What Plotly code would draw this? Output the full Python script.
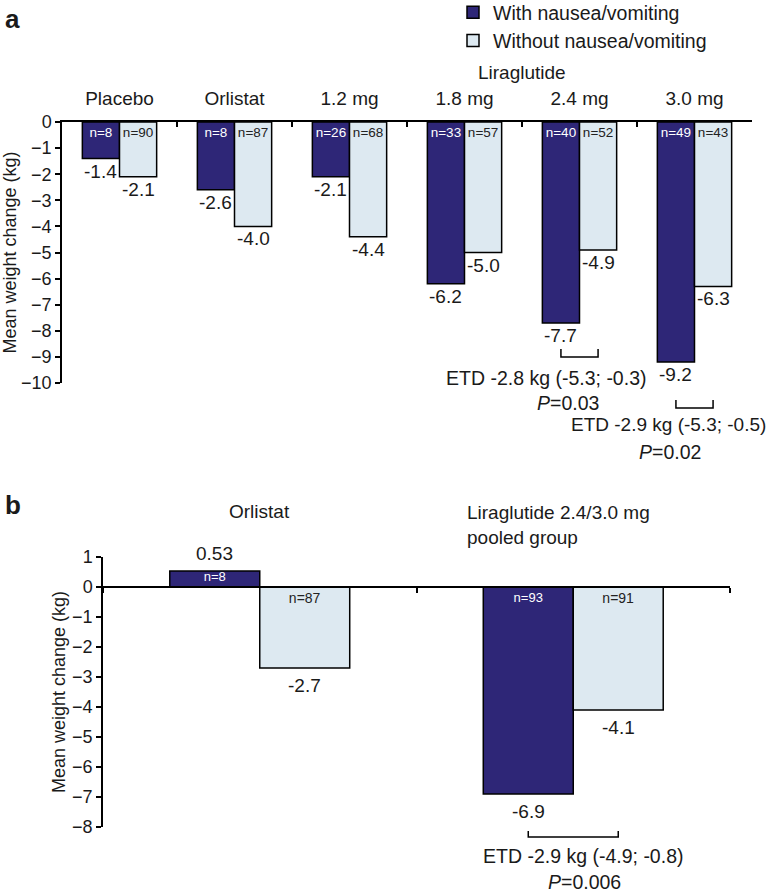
import plotly.graph_objects as go

# ---------------- data ----------------
groups_a = ["Placebo", "Orlistat", "1.2 mg", "1.8 mg", "2.4 mg", "3.0 mg"]
with_nv_a = [-1.4, -2.6, -2.1, -6.2, -7.7, -9.2]
without_nv_a = [-2.1, -4.0, -4.4, -5.0, -4.9, -6.3]
n_with_a = [8, 8, 26, 33, 40, 49]
n_without_a = [90, 87, 68, 57, 52, 43]

groups_b = ["Orlistat", "Liraglutide 2.4/3.0 mg<br>pooled group"]
with_nv_b = [0.53, -6.9]
without_nv_b = [-2.7, -4.1]
n_with_b = [8, 93]
n_without_b = [87, 91]

etd_a_groups = ["2.4 mg", "3.0 mg"]
etd_a_text = ["ETD -2.8 kg (-5.3; -0.3)", "ETD -2.9 kg (-5.3; -0.5)"]
etd_a_p = ["<i>P</i>=0.03", "<i>P</i>=0.02"]
etd_b_text = "ETD -2.9 kg (-4.9; -0.8)"
etd_b_p = "<i>P</i>=0.006"

# ---------------- style ----------------
FONT = "Liberation Sans, Arial, Helvetica, sans-serif"
DARK = "#2e2677"
LIGHT = "#dde9f1"
FW = 773
FH = 894
RA = [-10, 0]
RB = [-8, 1]


def px2x(px):
    return px / FW


def px2y(py):
    return 1 - py / FH


DOM_XA = [px2x(62), px2x(752)]
DOM_YA = [px2y(383), px2y(122)]
DOM_XB = [px2x(103), px2x(730)]
DOM_YB = [px2y(827), px2y(557)]
WA = 0.323
WB = 0.287


def fmt(v):
    return f"{v:.2f}" if abs(v * 10 - round(v * 10)) > 1e-9 else f"{v:.1f}"


def ydom(v, rng):
    return (v - rng[0]) / (rng[1] - rng[0])


fig = go.Figure()

# panel a bars
fig.add_trace(go.Bar(
    x=groups_a, y=with_nv_a, name="With nausea/vomiting", width=WA, offset=-WA,
    marker=dict(color=DARK, line=dict(color="black", width=1.5)),
    text=[f"n={n}" for n in n_with_a], textposition="inside", insidetextanchor="start",
    textangle=0, textfont=dict(color="white", size=13.5, family=FONT),
    xaxis="x", yaxis="y"))
fig.add_trace(go.Bar(
    x=groups_a, y=without_nv_a, name="Without nausea/vomiting", width=WA, offset=0,
    marker=dict(color=LIGHT, line=dict(color="black", width=1.5)),
    text=[f"n={n}" for n in n_without_a], textposition="inside", insidetextanchor="start",
    textangle=0, textfont=dict(color="#222", size=13.5, family=FONT),
    xaxis="x", yaxis="y"))

# panel b bars
fig.add_trace(go.Bar(
    x=groups_b, y=with_nv_b, name="With nausea/vomiting", width=WB, offset=-WB,
    marker=dict(color=DARK, line=dict(color="black", width=1.5)),
    text=[f"n={n}" for n in n_with_b], textposition="inside", insidetextanchor="start",
    textangle=0, constraintext="none", textfont=dict(color="white", size=13, family=FONT),
    xaxis="x2", yaxis="y2", showlegend=False))
fig.add_trace(go.Bar(
    x=groups_b, y=without_nv_b, name="Without nausea/vomiting", width=WB, offset=0,
    marker=dict(color=LIGHT, line=dict(color="black", width=1.5)),
    text=[f"n={n}" for n in n_without_b], textposition="inside", insidetextanchor="start",
    textangle=0, textfont=dict(color="#222", size=14, family=FONT),
    xaxis="x2", yaxis="y2", showlegend=False))

ann = []
# value labels
for i, (a, b) in enumerate(zip(with_nv_a, without_nv_a)):
    for v, dx in ((a, -WA / 2), (b, WA / 2)):
        ann.append(dict(x=i + dx, y=v, xref="x", yref="y", text=fmt(v), showarrow=False,
                        yanchor="top" if v < 0 else "bottom", yshift=0,
                        font=dict(size=19)))
for i, (a, b) in enumerate(zip(with_nv_b, without_nv_b)):
    for v, dx in ((a, -WB / 2), (b, WB / 2)):
        ann.append(dict(x=i + dx, y=v, xref="x2", yref="y2", text=fmt(v), showarrow=False,
                        yanchor="top" if v < 0 else "bottom", yshift=-5 if v < 0 else 5,
                        font=dict(size=19)))

shapes = []
# ETD brackets panel a
for k, cat in enumerate(etd_a_groups):
    yb, yt = [-9.0, -10.96][k], [-8.7, -10.65][k]
    ty, py = [-9.8, -11.6][k], [-10.77, -12.64][k]
    tx, pxx = [3.71, 4.77][k], [3.9, 4.79][k]
    fs = [19.5, 19][k]
    i = groups_a.index(cat)
    x0, x1 = i - WA / 2, i + WA / 2
    y0, y1 = ydom(yt, RA), ydom(yb, RA)
    shapes.append(dict(type="path", xref="x", yref="y domain",
                       path=f"M{x0},{y0} L{x0},{y1} L{x1},{y1} L{x1},{y0}",
                       line=dict(color="black", width=1.5)))
    ann.append(dict(x=tx, y=ydom(ty, RA), xref="x", yref="y domain", text=etd_a_text[k],
                    showarrow=False, yanchor="middle", font=dict(size=fs)))
    ann.append(dict(x=pxx, y=ydom(py, RA), xref="x", yref="y domain", text=etd_a_p[k],
                    showarrow=False, yanchor="middle", font=dict(size=19.5)))

# ETD bracket panel b
x0, x1 = 1 - WB / 2, 1 + WB / 2
yb0, yb1 = ydom(-8.13, RB), ydom(-8.33, RB)
shapes.append(dict(type="path", xref="x2", yref="y2 domain",
                   path=f"M{x0},{yb0} L{x0},{yb1} L{x1},{yb1} L{x1},{yb0}",
                   line=dict(color="black", width=1.5)))
ann.append(dict(x=1.031, y=ydom(-8.97, RB), xref="x2", yref="y2 domain", text=etd_b_text,
                showarrow=False, yanchor="middle", font=dict(size=19.5)))
ann.append(dict(x=1.037, y=ydom(-9.83, RB), xref="x2", yref="y2 domain", text=etd_b_p,
                showarrow=False, yanchor="middle", font=dict(size=19.5)))

# group headings
ann.append(dict(x=3.5, y=px2y(72), xref="x", yref="paper", text="Liraglutide", showarrow=False,
                yanchor="middle", font=dict(size=19)))
ann.append(dict(x=0, y=px2y(511), xref="x2", yref="paper", text=groups_b[0],
                showarrow=False, yanchor="middle", font=dict(size=19)))
ann.append(dict(x=1 - 0.345, y=px2y(500), xref="x2", yref="paper", text=groups_b[1],
                showarrow=False, align="left", xanchor="left", yanchor="top", font=dict(size=19)))

# panel letters
ann.append(dict(x=px2x(3), y=px2y(19), xref="paper", yref="paper", text="<b>a</b>", showarrow=False,
                xanchor="left", yanchor="middle", font=dict(size=26)))
ann.append(dict(x=px2x(3), y=px2y(505), xref="paper", yref="paper", text="<b>b</b>", showarrow=False,
                xanchor="left", yanchor="middle", font=dict(size=26)))

axis_common = dict(showgrid=False, zeroline=False, showline=True, linecolor="black", linewidth=1.5,
                   tickcolor="black", tickwidth=1.5, ticklen=5, tickfont=dict(size=18),
                   automargin=False)

fig.update_layout(
    width=FW, height=FH, margin=dict(l=0, r=0, t=0, b=0, autoexpand=False),
    paper_bgcolor="white", plot_bgcolor="white",
    font=dict(family=FONT, size=18, color="#1a1a1a"),
    barmode="overlay",
    showlegend=True,
    legend=dict(x=px2x(453), y=px2y(-7), xanchor="left", yanchor="top", bgcolor="rgba(0,0,0,0)",
                font=dict(size=19.5), traceorder="normal", tracegroupgap=0),
    xaxis=dict(domain=DOM_XA, anchor="y", side="top", type="category", range=[-0.5, 5.5],
               ticks="inside", tickson="boundaries", ticklabelstandoff=8,
               **{**axis_common, "tickfont": dict(size=19)}),
    yaxis=dict(domain=DOM_YA, anchor="x", range=RA, dtick=1, ticks="outside",
               title=dict(text="Mean weight change (kg)", font=dict(size=18), standoff=12),
               **axis_common),
    xaxis2=dict(domain=DOM_XB, anchor="free",
                position=DOM_YB[0] + ydom(0, RB) * (DOM_YB[1] - DOM_YB[0]),
                type="category", range=[-0.5, 1.5], ticks="outside", tickson="boundaries",
                showticklabels=False, **axis_common),
    yaxis2=dict(domain=DOM_YB, anchor="x2", range=RB, dtick=1, ticks="outside",
                title=dict(text="Mean weight change (kg)", font=dict(size=18), standoff=2),
                **axis_common),
    annotations=ann,
    shapes=shapes,
)

fig.write_html("out.html", config={"displayModeBar": False},
               post_script="document.body.style.margin='0px';")
